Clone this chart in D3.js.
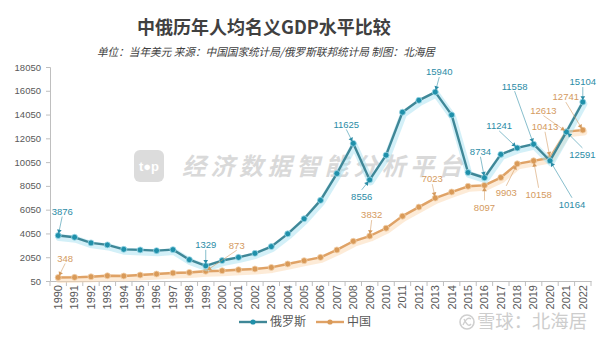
<!DOCTYPE html>
<html><head><meta charset="utf-8">
<script src="https://cdn.jsdelivr.net/npm/d3@7"></script>
<style>body{margin:0;background:#fff}svg{display:block}</style>
</head><body>
<svg id="c" width="605" height="340"></svg>
<script>
const years = ["1990","1991","1992","1993","1994","1995","1996","1997","1998","1999","2000","2001","2002","2003","2004","2005","2006","2007","2008","2009","2010","2011","2012","2013","2014","2015","2016","2017","2018","2019","2020","2021","2022"];
const russia = [3876,3729,3256,3086,2714,2664,2604,2689,1843,1329,1770,2038,2376,2943,4017,5285,6832,9090,11625,8556,10637,14248,15246,15940,14020,9175,8734,10697,11241,11558,10164,12591,15104];
const china = [348,355,406,490,470,550,634,719,770,873,913,998,1057,1192,1480,1759,2038,2664,3391,3832,4490,5505,6266,7023,7534,8016,8097,8752,9903,10158,10413,12613,12741];
const yTicks = [50,2050,4050,6050,8050,10050,12050,14050,16050,18050];
const seriesNames = ["俄罗斯","中国"];
const title = "中俄历年人均名义GDP水平比较";
const subtitle = "单位：当年美元 来源：中国国家统计局/俄罗斯联邦统计局 制图：北海居";
// labelled points: year, and label offset (layout)
const ruLabels = [["1990",4,-24],["1999",0,-21],["2008",-7,-19],["2009",-8,17],["2013",4,-20],["2016",-4,-26],["2018",-18,-22],["2019",-19,-58],["2020",22,44],["2021",16,23],["2022",0,-20]];
const cnLabels = [["1990",7,-19],["1999",31,-26],["2009",2,-21],["2013",-3,-19],["2016",0,22],["2018",-11,29],["2019",5,34],["2020",-5,-31],["2021",-23,-21],["2022",-17,-33]];

const svg = d3.select("#c");
const F = "'Liberation Sans','Noto Sans CJK SC',sans-serif";
const CJK = "'Noto Sans CJK SC','Liberation Sans',sans-serif";

const x = d3.scaleBand().domain(years).range([50, 591]).padding(0);
const y = d3.scaleLinear().domain([50, 18050]).range([281, 67]);
const cx = d => x(d) + x.bandwidth() / 2;

// titles
svg.append("text").attr("x", 264).attr("y", 33.5).attr("text-anchor", "middle")
  .attr("font-family", CJK).attr("font-weight", "bold").attr("font-size", 18).attr("fill", "#404040").text(title);
svg.append("text").attr("x", 266).attr("y", 56).attr("text-anchor", "middle")
  .attr("font-family", CJK).attr("font-style", "italic").attr("font-size", 11).attr("fill", "#404040")
  .attr("textLength", 338).attr("lengthAdjust", "spacingAndGlyphs").text(subtitle);

// watermark
const wm = svg.append("g");
wm.append("rect").attr("x", 134).attr("y", 150).attr("width", 30).attr("height", 32).attr("rx", 6).attr("fill", "#dcdcdc");
wm.append("text").attr("x", 149).attr("y", 171).attr("text-anchor", "middle").attr("font-family", F)
  .attr("font-weight", "bold").attr("font-size", 13).attr("fill", "#fff").text("t●p");
wm.append("text").attr("x", 182).attr("y", 175).attr("font-family", CJK).attr("font-weight", "bold")
  .attr("font-style", "italic").attr("font-size", 24).attr("letter-spacing", 4.5).attr("fill", "#d9d9d9").text("经济数据智能分析平台");

// axes
const yAxis = svg.append("g").attr("transform", "translate(50,0)")
  .call(d3.axisLeft(y).tickValues(yTicks).tickFormat(d3.format("d")).tickSize(4).tickPadding(5));
yAxis.select(".domain").attr("stroke", "#bfbfbf");
yAxis.selectAll(".tick line").attr("stroke", "#bfbfbf");
yAxis.selectAll("text").attr("font-family", F).attr("font-size", 9.5).attr("fill", "#595959");

const xAxis = svg.append("g").attr("transform", "translate(0,281)")
  .call(d3.axisBottom(x).tickSize(0).tickPadding(0));
xAxis.select(".domain").attr("stroke", "#bfbfbf");
xAxis.selectAll("text").attr("font-family", F).attr("font-size", 11).attr("fill", "#595959")
  .attr("text-anchor", "end").attr("dy", "0.35em")
  .attr("transform", "translate(0,4) rotate(-90)").attr("x", 0).attr("y", 0);
// category boundary ticks
xAxis.selectAll(".sep").data(years.concat(["end"])).join("line").attr("class", "sep")
  .attr("x1", (d, i) => i < years.length ? x(d) : x(years[years.length - 1]) + x.bandwidth())
  .attr("x2", (d, i) => i < years.length ? x(d) : x(years[years.length - 1]) + x.bandwidth())
  .attr("y1", 0).attr("y2", 5).attr("stroke", "#bfbfbf");

const line = d3.line().x((d, i) => cx(years[i])).y(d => y(d));

function drawSeries(vals, glow, stroke, marker, markerStroke) {
  const g = svg.append("g");
  g.append("path").datum(vals).attr("d", line).attr("fill", "none").attr("stroke", glow)
    .attr("stroke-width", 7).attr("stroke-linejoin", "round").attr("stroke-linecap", "round")
    .attr("opacity", 0.5).attr("transform", "translate(1,2)");
  g.append("path").datum(vals).attr("d", line).attr("fill", "none").attr("stroke", stroke)
    .attr("stroke-width", 2.4).attr("stroke-linejoin", "round");
  g.selectAll("circle").data(vals).join("circle")
    .attr("cx", (d, i) => cx(years[i])).attr("cy", d => y(d)).attr("r", 3)
    .attr("fill", marker).attr("stroke", markerStroke).attr("stroke-width", 0.8);
}
drawSeries(china, "#fbd7b0", "#dfa266", "#d99a58", "#f3d2ad");
drawSeries(russia, "#a8e2f2", "#3f8797", "#1f90aa", "#9fd9e8");

function drawLabels(vals, labels, color) {
  const g = svg.append("g");
  labels.forEach(([yr, dx, dy]) => {
    const i = years.indexOf(yr);
    const px = cx(yr), py = y(vals[i]);
    const lx = px + dx, ly = py + dy;
    const sy = ly + (dy < 0 ? 5 : -7);
    const ang = Math.atan2(py - sy, px - lx);
    const ex = px - Math.cos(ang) * 2, ey = py - Math.sin(ang) * 2;
    g.append("line").attr("x1", lx).attr("y1", sy).attr("x2", ex).attr("y2", ey)
      .attr("stroke", color).attr("stroke-width", 0.7).attr("opacity", 0.8);
    const a = 4.5, w = 0.55;
    const p1 = [ex - a * Math.cos(ang - w), ey - a * Math.sin(ang - w)];
    const p2 = [ex - a * Math.cos(ang + w), ey - a * Math.sin(ang + w)];
    g.append("path").attr("d", `M${ex},${ey}L${p1[0]},${p1[1]}L${p2[0]},${p2[1]}Z`).attr("fill", color);
    g.append("text").attr("x", lx).attr("y", ly).attr("dy", "0.35em").attr("text-anchor", "middle")
      .attr("font-family", F).attr("font-size", 9.5).attr("fill", color).text(vals[i]);
  });
}
drawLabels(china, cnLabels, "#d49a5e");
drawLabels(russia, ruLabels, "#2b8ca6");

// legend
const leg = svg.append("g");
const legItems = [{name: seriesNames[0], x: 239, line: "#3f8797", dot: "#1f90aa"},
                  {name: seriesNames[1], x: 316, line: "#dfa266", dot: "#d99a58"}];
legItems.forEach(it => {
  leg.append("line").attr("x1", it.x).attr("x2", it.x + 28).attr("y1", 322).attr("y2", 322)
    .attr("stroke", it.line).attr("stroke-width", 2.4);
  leg.append("circle").attr("cx", it.x + 14).attr("cy", 322).attr("r", 2.6).attr("fill", it.dot);
  leg.append("text").attr("x", it.x + 31).attr("y", 322).attr("dy", "0.35em")
    .attr("font-family", CJK).attr("font-size", 12).attr("fill", "#595959").text(it.name);
});

// bottom-right watermark
const w2 = svg.append("g");
w2.append("circle").attr("cx", 467).attr("cy", 322).attr("r", 7).attr("fill", "none").attr("stroke", "#cfcfcf").attr("stroke-width", 1.6);
w2.append("path").attr("d", "M463,325 Q467,316 471,319 M464,319 Q468,328 471,324").attr("fill", "none").attr("stroke", "#cfcfcf").attr("stroke-width", 1.4);
w2.append("text").attr("x", 477).attr("y", 322).attr("dy", "0.36em").attr("font-family", CJK)
  .attr("font-size", 18).attr("fill", "#cdcdcd").attr("textLength", 110).attr("lengthAdjust", "spacingAndGlyphs").text("雪球：北海居");
</script>
</body></html>
